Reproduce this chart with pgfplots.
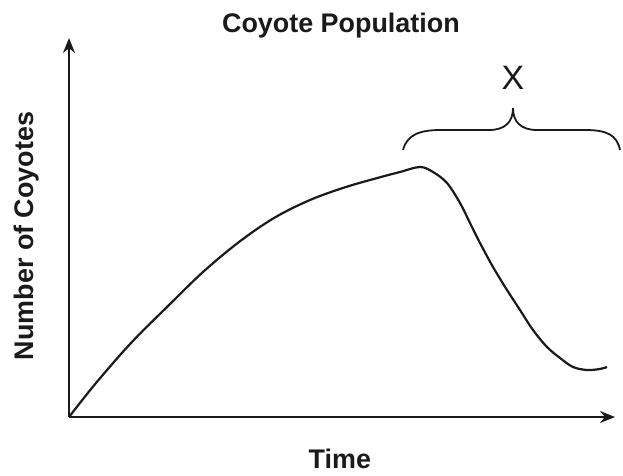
\documentclass[border=0pt]{standalone}
\usepackage{pgfplots}
\pgfplotsset{compat=1.18}
\usepackage{fontspec}
\setmainfont{Liberation Sans}
\usetikzlibrary{arrows.meta}
\definecolor{ink}{HTML}{1A1A1A}
\begin{document}
\begin{tikzpicture}
\begin{axis}[
  x=1bp, y=1bp,
  xmin=0, xmax=546, ymin=0, ymax=379,
  axis lines=left,
  axis line style={ink, line width=2.2bp, -{Stealth[length=15bp,width=12bp]}},
  xtick=\empty, ytick=\empty,
  clip=false,
  title={Coyote Population},
  title style={at={(axis description cs:0.498,1.0)}, anchor=base, font=\bfseries\fontsize{27}{30}\selectfont, text=ink},
  xlabel={Time},
  xlabel style={at={(axis description cs:0.496,-0.1346)}, anchor=base, font=\bfseries\fontsize{27}{30}\selectfont, text=ink},
  ylabel={Number of Coyotes},
  ylabel style={at={(axis description cs:-0.0659,0.4776)}, anchor=base, rotate=0, font=\bfseries\fontsize{27}{30}\selectfont, text=ink},
]
\path (axis cs:-69,-59) rectangle (axis cs:554,417);
\addplot[ink, line width=2.2bp, smooth, tension=0.55] coordinates {
(0,0) (27,34) (62,74) (98,110) (134,145) (170,175) (205,199) (241,217)
(277,230) (312,240) (331,245) (351,250) (364,245) (378,234) (391,214)
(401,194) (411,174) (424,150) (438,127) (451,107) (464,87) (478,70)
(491,59) (504,50) (518,47) (531,48) (538,50)
};
\draw[ink, line width=1.8bp] (axis cs:334,267) .. controls (axis cs:338,282) and (axis cs:350,287) .. (axis cs:372,287)
  -- (axis cs:420,287) .. controls (axis cs:436,287) and (axis cs:444,295) .. (axis cs:444,309)
  .. controls (axis cs:444,295) and (axis cs:452,287) .. (axis cs:468,287)
  -- (axis cs:516,287) .. controls (axis cs:538,287) and (axis cs:548,282) .. (axis cs:551,267);
\node[anchor=base, text=ink, font=\fontsize{34}{36}\selectfont] at (axis cs:444,327) {X};
\end{axis}
\end{tikzpicture}
\end{document}
